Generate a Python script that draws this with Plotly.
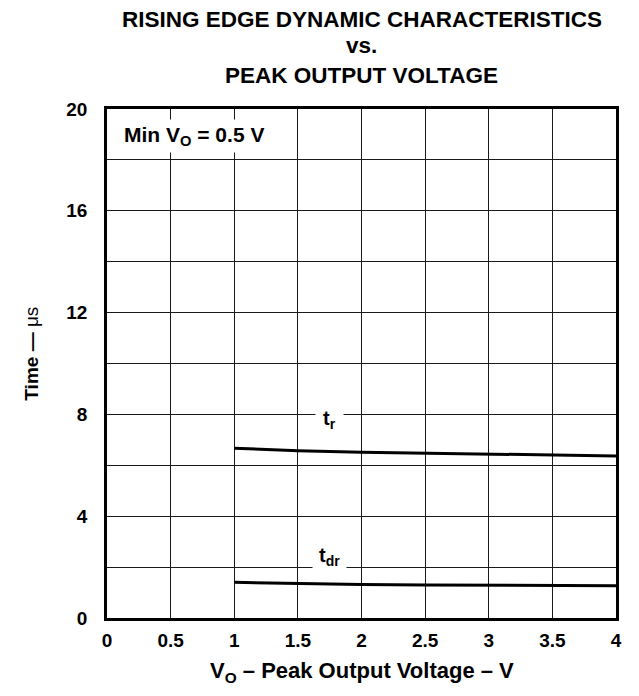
import plotly.graph_objects as go

# Data
vo = [1.0, 1.5, 2.0, 2.5, 3.0, 3.5, 4.0]
t_r = [6.67, 6.57, 6.51, 6.47, 6.44, 6.41, 6.37]
t_dr = [1.40, 1.35, 1.32, 1.30, 1.29, 1.28, 1.27]

x_ticks = [0, 0.5, 1, 1.5, 2, 2.5, 3, 3.5, 4]
x_tick_labels = ["0", "0.5", "1", "1.5", "2", "2.5", "3", "3.5", "4"]
y_ticks = [0, 4, 8, 12, 16, 20]
y_tick_labels = ["0", "4", "8", "12", "16", "20"]

FONT = "Liberation Sans, Arial, Helvetica, sans-serif"

# page has an 8px body margin; figure sized to fill the 639x696 window
W, H = 623, 680
PLOT_TOP, PLOT_BOTTOM, PLOT_LEFT, PLOT_RIGHT = 109, 618, 106.5, 616.5  # page px
ML = PLOT_LEFT - 8
MT = PLOT_TOP - 8
MR = 8 + W - PLOT_RIGHT
MB = 8 + H - PLOT_BOTTOM
PH = PLOT_BOTTOM - PLOT_TOP
PW = PLOT_RIGHT - PLOT_LEFT

fig = go.Figure()
fig.add_trace(go.Scatter(x=vo, y=t_r, mode="lines", line=dict(color="black", width=3),
                         showlegend=False, hoverinfo="skip"))
fig.add_trace(go.Scatter(x=vo, y=t_dr, mode="lines", line=dict(color="black", width=3),
                         showlegend=False, hoverinfo="skip"))

fig.update_layout(
    width=W, height=H,
    margin=dict(l=ML, r=MR, t=MT, b=MB, pad=0, autoexpand=False),
    paper_bgcolor="white", plot_bgcolor="white",
    font=dict(family=FONT, size=20, color="black"),
    showlegend=False,
)

GRID = "#1a1a1a"
fig.update_xaxes(
    range=[0, 4], tickvals=x_ticks, ticktext=x_tick_labels, automargin=False,
    showgrid=True, gridcolor=GRID, gridwidth=1,
    showline=True, linecolor="black", linewidth=2.5, mirror=True,
    ticks="", ticklabelstandoff=3, zeroline=False,
    tickfont=dict(family=FONT, size=19, color="black", weight="bold"),
)
fig.update_yaxes(
    range=[0, 20], tickvals=y_ticks, ticktext=y_tick_labels, automargin=False,
    showgrid=True, gridcolor=GRID, gridwidth=1,
    minor=dict(dtick=2, tick0=0, showgrid=True, gridcolor=GRID, gridwidth=1),
    showline=True, linecolor="black", linewidth=2.5, mirror=True,
    ticks="", ticklabelstandoff=13, zeroline=False,
    tickfont=dict(family=FONT, size=19, color="black", weight="bold"),
)

# axis titles (page px centres)
fig.add_annotation(text="<b>V<sub>O</sub> – Peak Output Voltage – V</b>",
                   xref="paper", yref="paper", x=0.5, y=(PLOT_BOTTOM - 672) / PH,
                   xanchor="center", yanchor="middle", showarrow=False,
                   font=dict(family=FONT, size=22, color="black"))
fig.add_annotation(text="<b>Time —</b> μs", textangle=-90,
                   xref="paper", yref="paper", x=(30 - PLOT_LEFT) / PW,
                   y=(PLOT_BOTTOM - 354) / PH,
                   xanchor="center", yanchor="middle", showarrow=False,
                   font=dict(family=FONT, size=19, color="black"))

title_lines = ["RISING EDGE DYNAMIC CHARACTERISTICS", "vs.", "PEAK OUTPUT VOLTAGE"]
title_y = [20, 46, 76]  # page px centres
for txt, yy in zip(title_lines, title_y):
    fig.add_annotation(text="<b>" + txt + "</b>", xref="paper", yref="paper",
                       x=0.5, y=1 + (PLOT_TOP - yy) / PH, showarrow=False,
                       font=dict(family=FONT, size=22.5, color="black"),
                       xanchor="center", yanchor="middle")

fig.add_annotation(text="<b>Min V<sub>O</sub> = 0.5 V</b>", x=0.105, y=18.95,
                   xref="x", yref="y", xanchor="left", yanchor="middle",
                   showarrow=False, bgcolor="white", borderpad=3,
                   font=dict(family=FONT, size=21, color="black"))
fig.add_annotation(text="<b>t<sub>r</sub></b>", x=1.75, y=7.8,
                   xref="x", yref="y", showarrow=False, bgcolor="white", borderpad=7,
                   font=dict(family=FONT, size=20, color="black"))
fig.add_annotation(text="<b>t<sub>dr</sub></b>", x=1.745, y=2.4,
                   xref="x", yref="y", showarrow=False, bgcolor="white", borderpad=6,
                   font=dict(family=FONT, size=20, color="black"))

fig.write_html("out.html")
